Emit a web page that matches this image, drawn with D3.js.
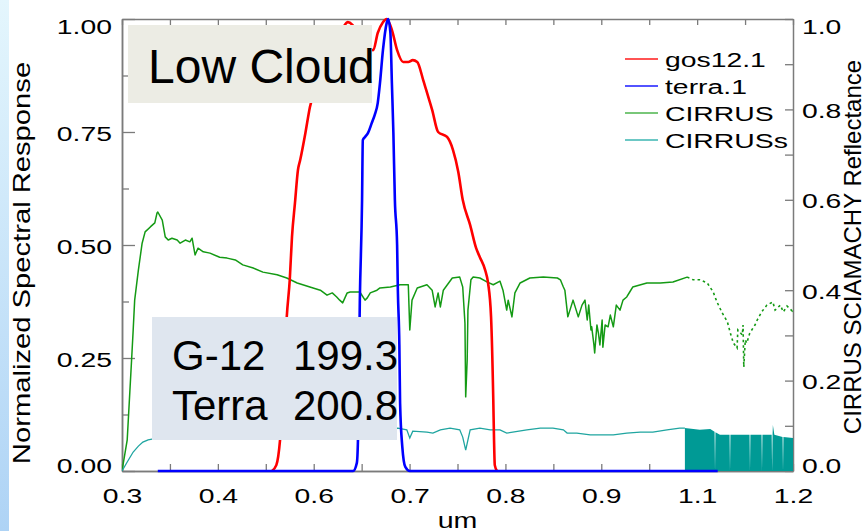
<!DOCTYPE html>
<html>
<head>
<meta charset="utf-8">
<script src="https://cdn.jsdelivr.net/npm/d3@7"></script>
<style>
  html, body { margin: 0; padding: 0; background: #ffffff; }
  svg { display: block; }
  text { font-family: "Liberation Sans", Arial, Helvetica, sans-serif; fill: #000; }
</style>
</head>
<body>
<svg id="chart" width="867" height="531"></svg>
<script>
// ---- spectral response functions (wavelength in um, normalized response) ----
const gosWave = [0.501,0.507,0.512,0.517,0.521,0.525,0.528,0.532,0.536,0.539,0.546,0.552,0.566,0.586,0.596,0.603,0.609,0.619,0.630,0.637,0.643,0.650,0.655,0.662,0.669,0.677,0.684,0.690,0.696,0.704,0.710,0.716,0.724,0.736,0.744,0.751,0.757,0.767,0.775,0.780,0.787,0.791,0.795,0.798,0.799,0.800,0.803];
const gosResp = [0,0.013,0.069,0.201,0.341,0.423,0.518,0.593,0.666,0.688,0.748,0.805,0.876,0.954,0.980,0.993,0.987,0.958,0.936,0.931,0.969,0.993,1.0,0.976,0.931,0.905,0.905,0.909,0.905,0.865,0.832,0.799,0.750,0.739,0.710,0.662,0.600,0.544,0.493,0.473,0.445,0.416,0.341,0.157,0.069,0.013,0];

const terraWave = [0.348,0.610,0.615,0.6165,0.619,0.622,0.623,0.626,0.630,0.635,0.639,0.643,0.646,0.650,0.655,0.657,0.660,0.662,0.664,0.666,0.669,0.670,0.672,0.673,0.676,0.680,0.686,1.099];
const terraResp = [0,0,0.018,0.069,0.378,0.600,0.732,0.739,0.748,0.770,0.788,0.814,0.858,0.931,0.991,1.0,0.969,0.858,0.748,0.600,0.500,0.400,0.280,0.150,0.053,0.009,0,0];

// ---- CIRRUS SCIAMACHY reflectance (right axis) ----
const cirrusWave = [0.300,0.307,0.313,0.315,0.317,0.322,0.327,0.331,0.338,0.344,0.347,0.348,0.354,0.358,0.362,0.367,0.374,0.378,0.385,0.391,0.394,0.398,0.402,0.409,0.418,0.431,0.441,0.452,0.462,0.476,0.489,0.508,0.521,0.535,0.552,0.566,0.575,0.582,0.588,0.592,0.596,0.602,0.606,0.619,0.626,0.629,0.633,0.642,0.646,0.660,0.673,0.684,0.686,0.689,0.696,0.709,0.716,0.720,0.724,0.727,0.731,0.743,0.753,0.757,0.760,0.761,0.763,0.764,0.768,0.771,0.780,0.790,0.798,0.807,0.811,0.816,0.818,0.823,0.827,0.834,0.847,0.865,0.884,0.888,0.892,0.894,0.898,0.905,0.912,0.917,0.921,0.924,0.926,0.929,0.930,0.933,0.934,0.937,0.939,0.941,0.944,0.945,0.948,0.952,0.955,0.959,0.963,0.968,0.972,0.977,0.981,0.985,1.004,1.022,1.039,1.058];
const cirrusRefl = [0,0.069,0.250,0.312,0.378,0.445,0.504,0.529,0.540,0.549,0.571,0.573,0.555,0.518,0.511,0.515,0.511,0.504,0.511,0.507,0.515,0.478,0.493,0.485,0.482,0.473,0.471,0.467,0.456,0.449,0.440,0.434,0.427,0.416,0.407,0.400,0.389,0.394,0.385,0.378,0.372,0.394,0.396,0.396,0.378,0.383,0.394,0.400,0.405,0.407,0.412,0.412,0.312,0.378,0.405,0.412,0.400,0.363,0.394,0.363,0.400,0.427,0.429,0.407,0.327,0.164,0.246,0.356,0.423,0.429,0.427,0.418,0.412,0.420,0.400,0.356,0.378,0.341,0.394,0.416,0.427,0.429,0.427,0.423,0.407,0.400,0.341,0.378,0.341,0.367,0.378,0.334,0.367,0.312,0.319,0.279,0.261,0.323,0.305,0.279,0.334,0.274,0.323,0.319,0.345,0.319,0.367,0.356,0.378,0.385,0.396,0.407,0.416,0.416,0.418,0.429];
// sparse samples beyond 1.05 um
const cirrusDotWave = [1.058,1.066,1.075,1.085,1.093,1.098,1.105,1.112,1.116,1.120,1.125,1.126,1.132,1.133,1.134,1.136,1.138,1.142,1.149,1.152,1.158,1.165,1.173,1.176,1.183,1.187,1.192,1.199,1.200];
const cirrusDotRefl = [0.429,0.423,0.423,0.416,0.396,0.374,0.350,0.330,0.305,0.283,0.272,0.312,0.301,0.323,0.230,0.290,0.283,0.305,0.323,0.334,0.352,0.367,0.374,0.356,0.367,0.352,0.365,0.354,0.356];

const cirrusSWave = [0.300,0.307,0.315,0.322,0.328,0.335,0.342,0.405,0.485,0.566,0.646,0.670,0.682,0.686,0.690,0.709,0.717,0.727,0.740,0.753,0.757,0.761,0.764,0.767,0.780,0.794,0.807,0.816,0.824,0.843,0.861,0.878,0.892,0.897,0.910,0.928,0.941,0.959,0.977,0.995,1.012,1.031,1.048,1.055];
const cirrusSRefl = [0,0.020,0.042,0.055,0.064,0.069,0.071,0.077,0.082,0.086,0.088,0.095,0.091,0.073,0.088,0.086,0.084,0.091,0.095,0.091,0.075,0.046,0.069,0.091,0.095,0.091,0.091,0.084,0.086,0.091,0.095,0.095,0.091,0.084,0.084,0.080,0.080,0.080,0.084,0.086,0.086,0.091,0.095,0.095];
// densely sampled band (with a few dropouts), drawn filled
const cirrusSBandWave = [1.055,1.075,1.089,1.0948,1.0954,1.0960,1.102,1.1149,1.1155,1.1161,1.120,1.1417,1.1423,1.1429,1.1578,1.1584,1.1590,1.165,1.1714,1.1720,1.1726,1.173,1.175,1.1860,1.1866,1.1872,1.200];
const cirrusSBandRefl = [0.095,0.091,0.093,0.087,0,0.086,0.080,0.080,0,0.080,0.080,0.080,0,0.080,0.080,0,0.080,0.080,0.080,0,0.080,0.102,0.080,0.075,0,0.075,0.073];

// ---- axes / legend text ----
const xTickLabels = ["0.3","0.4","0.6","0.7","0.8","0.9","1.1","1.2"];
const yLeftTicks = [0, 0.25, 0.5, 0.75, 1];
const yLeftLabels = ["0.00","0.25","0.50","0.75","1.00"];
const yRightTicks = [0, 0.2, 0.4, 0.6, 0.8, 1.0];
const yRightLabels = ["0.0","0.2","0.4","0.6","0.8","1.0"];
const legendNames = ["gos12.1","terra.1","CIRRUS","CIRRUSs"];
const legendColors = ["#ff1a1a","#1a1aff","#4cb44c","#3bb6b2"];

const COL = { red: "#ff0000", blue: "#0000ff", green: "#149a14", teal: "#1fa5a0", tealFill: "#009a95", axis: "#7b7b7b" };
const SX = 1.35;          // horizontal stretch of the plot lettering
const FS = 21;            // plot lettering size

const svg = d3.select("#chart");
const M = { left: 122, right: 793, top: 19, bottom: 471 };

// left edge band
const defs = svg.append("defs");
const grad = defs.append("linearGradient").attr("id", "edge").attr("x1", 0).attr("y1", 0).attr("x2", 0).attr("y2", 1);
grad.append("stop").attr("offset", "0%").attr("stop-color", "#e4f6fd");
grad.append("stop").attr("offset", "100%").attr("stop-color", "#aed3f5");
svg.append("rect").attr("x", 0).attr("y", 0).attr("width", 9).attr("height", 531).attr("fill", "url(#edge)");

defs.append("clipPath").attr("id", "plotclip").append("rect")
  .attr("x", M.left).attr("y", M.top - 2).attr("width", M.right - M.left).attr("height", M.bottom - M.top + 4);

const x = d3.scaleLinear().domain([0.3, 1.2]).range([M.left, M.right]);
const yL = d3.scaleLinear().domain([0, 1]).range([M.bottom, M.top]);
const yR = d3.scaleLinear().domain([0, 1]).range([M.bottom, M.top]);

// 7 equal intervals across the wavelength range, one minor tick between majors
const xMajor = d3.range(8).map(i => 0.3 + i * 0.9 / 7);
const xMinor = d3.range(7).map(i => 0.3 + (i + 0.5) * 0.9 / 7);

function styleAxis(g) {
  g.select(".domain").attr("stroke", COL.axis).attr("stroke-width", 1.5);
  g.selectAll(".tick line").attr("stroke", COL.axis).attr("stroke-width", 1.3);
  g.selectAll("text").attr("font-size", FS).attr("fill", "#000")
    .attr("font-family", '"Liberation Sans", Arial, sans-serif');
}

// bottom axis
const gxB = svg.append("g").attr("transform", `translate(0,${M.bottom})`)
  .call(d3.axisBottom(x).tickValues(xMajor).tickFormat((d, i) => xTickLabels[i]).tickSizeInner(-7).tickSizeOuter(0));
styleAxis(gxB);
gxB.selectAll("text").attr("y", 32).attr("dy", null).attr("transform", `scale(${SX},1)`);
const gxBm = svg.append("g").attr("transform", `translate(0,${M.bottom})`)
  .call(d3.axisBottom(x).tickValues(xMinor).tickFormat("").tickSizeInner(-7).tickSizeOuter(0));
styleAxis(gxBm);

// top axis
const gxT = svg.append("g").attr("transform", `translate(0,${M.top})`)
  .call(d3.axisTop(x).tickValues(xMajor.concat(xMinor)).tickFormat("").tickSizeInner(-6).tickSizeOuter(0));
styleAxis(gxT);

// left axis
const gyL = svg.append("g").attr("transform", `translate(${M.left},0)`)
  .call(d3.axisLeft(yL).tickValues(yLeftTicks).tickFormat((d, i) => yLeftLabels[i]).tickSizeInner(-13).tickSizeOuter(0));
styleAxis(gyL);
gyL.selectAll("text").attr("x", -10 / SX).attr("dy", null)
  .attr("y", d => d === 1 ? 14 : d === 0 ? 1 : 8)
  .attr("transform", `scale(${SX},1)`);
const gyLm = svg.append("g").attr("transform", `translate(${M.left},0)`)
  .call(d3.axisLeft(yL).tickValues([0.125, 0.375, 0.625, 0.875]).tickFormat("").tickSizeInner(-7).tickSizeOuter(0));
styleAxis(gyLm);

// right axis
const rightAll = d3.range(11).map(i => i / 10);
const gyR = svg.append("g").attr("transform", `translate(${M.right},0)`)
  .call(d3.axisRight(yR).tickValues(rightAll)
    .tickFormat((d, i) => i % 2 === 0 ? yRightLabels[i / 2] : "")
    .tickSizeInner(-8).tickSizeOuter(0));
styleAxis(gyR);
gyR.selectAll("text").attr("x", 9 / SX).attr("dy", null)
  .attr("y", d => d === 1 ? 14 : d === 0 ? 1 : 8)
  .attr("transform", `scale(${SX},1)`);

// series
const plot = svg.append("g").attr("clip-path", "url(#plotclip)");
const zipL = (w, v) => w.map((d, i) => [d, v[i]]);

const lineR = d3.line().x(d => x(d[0])).y(d => yR(d[1]));
const smoothL = d3.line().x(d => x(d[0])).y(d => yL(d[1])).curve(d3.curveMonotoneX);

plot.append("path").datum(zipL(cirrusWave, cirrusRefl))
  .attr("d", lineR).attr("fill", "none").attr("stroke", COL.green).attr("stroke-width", 1.5).attr("stroke-linejoin", "round");
plot.append("path").datum(zipL(cirrusDotWave, cirrusDotRefl))
  .attr("d", lineR).attr("fill", "none").attr("stroke", COL.green).attr("stroke-width", 1.6)
  .attr("stroke-dasharray", "2.5,3");

plot.append("path").datum(zipL(cirrusSWave, cirrusSRefl))
  .attr("d", lineR).attr("fill", "none").attr("stroke", COL.teal).attr("stroke-width", 1.3);
const bandArea = d3.area().x(d => x(d[0])).y0(yR(0)).y1(d => yR(d[1]));
plot.append("path").datum(zipL(cirrusSBandWave, cirrusSBandRefl))
  .attr("d", bandArea).attr("fill", COL.tealFill);

plot.append("path").datum(zipL(gosWave, gosResp))
  .attr("d", smoothL).attr("fill", "none").attr("stroke", COL.red).attr("stroke-width", 2.6).attr("stroke-linejoin", "round");
plot.append("path").datum(zipL(terraWave, terraResp))
  .attr("d", smoothL).attr("fill", "none").attr("stroke", COL.blue).attr("stroke-width", 2.6).attr("stroke-linejoin", "round");

// annotation boxes
svg.append("rect").attr("x", 128).attr("y", 25).attr("width", 244).attr("height", 78).attr("fill", "#ecece4");
svg.append("text").attr("x", 148).attr("y", 83).attr("font-size", 48).text("Low Cloud");

svg.append("rect").attr("x", 152).attr("y", 317).attr("width", 245).attr("height", 123).attr("fill", "#dfe6ef");
const boxRows = [["G-12", "199.3", 370], ["Terra", "200.8", 420]];
boxRows.forEach(r => {
  svg.append("text").attr("x", 172).attr("y", r[2]).attr("font-size", 42).text(r[0]);
  svg.append("text").attr("x", 293).attr("y", r[2]).attr("font-size", 42).text(r[1]);
});

// legend
const leg = svg.append("g");
legendNames.forEach((name, i) => {
  const yy = 59 + i * 27;
  leg.append("line").attr("x1", 625).attr("x2", 658).attr("y1", yy).attr("y2", yy)
    .attr("stroke", legendColors[i]).attr("stroke-width", 1.4);
  leg.append("text").attr("transform", `translate(665,${yy + 7.5}) scale(${SX},1)`)
    .attr("font-size", FS).text(name);
});

// axis titles
svg.append("text").attr("transform", `translate(457.5,528) scale(1.3,1)`)
  .attr("text-anchor", "middle").attr("font-size", 22).text("um");
svg.append("text").attr("transform", "translate(30,263) rotate(-90) scale(1.27,1)")
  .attr("text-anchor", "middle").attr("font-size", 23).text("Normalized Spectral Response");
svg.append("text").attr("transform", "translate(861,247) rotate(-90)")
  .attr("text-anchor", "middle").attr("font-size", 24).text("CIRRUS SCIAMACHY Reflectance");
</script>
</body>
</html>
